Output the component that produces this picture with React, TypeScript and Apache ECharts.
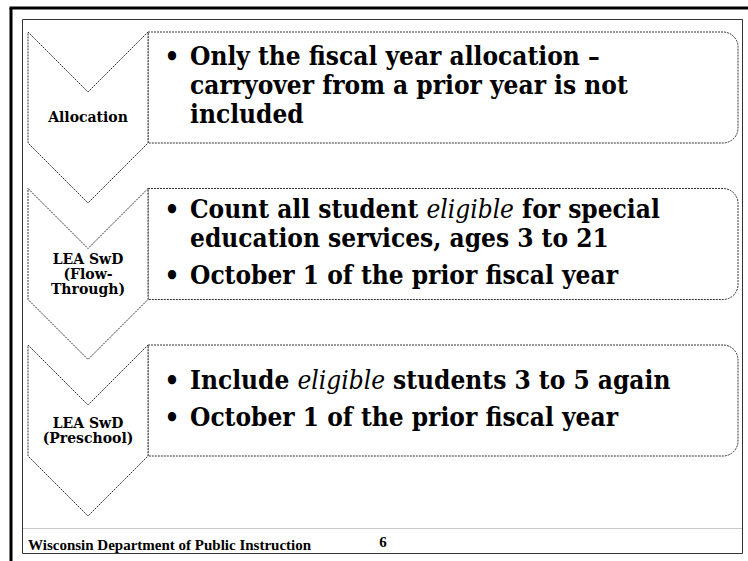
import React, { useEffect, useRef } from "react";
import * as echarts from "echarts";

const stageLabels: string[] = ["Allocation", "LEA SwD\n(Flow-\nThrough)", "LEA SwD\n(Preschool)"];

const stageBullets: string[][][] = [
  [["Only the fiscal year allocation –", "carryover from a prior year is not", "included"]],
  [
    ["Count all student {i|eligible} for special", "education services, ages 3 to 21"],
    ["October 1 of the prior fiscal year"],
  ],
  [["Include {i|eligible} students 3 to 5 again"], ["October 1 of the prior fiscal year"]],
];

const footerText = "Wisconsin Department of Public Instruction";
const pageNumber = "6";

const BODY_FONT = "'DejaVu Serif Condensed', 'DejaVu Serif'";
const BODY_SIZE = 26;
const LABEL_FONT = "DejaVu Serif";

export default function App() {
  const ref = useRef<HTMLDivElement>(null);
  useEffect(() => {
    if (!ref.current) return;
    const chart = echarts.init(ref.current, null, { renderer: "svg" });
    const elements: any[] = [];

    // outer frame
    elements.push({ type: "line", shape: { x1: 11, y1: 8, x2: 11, y2: 561 }, style: { stroke: "#000", lineWidth: 3 } });
    elements.push({ type: "line", shape: { x1: 9.5, y1: 8, x2: 748, y2: 8 }, style: { stroke: "#000", lineWidth: 3 } });
    elements.push({ type: "rect", shape: { x: 22.5, y: 19.5, width: 720, height: 534 }, style: { fill: "none", stroke: "#333", lineWidth: 1 } });
    elements.push({ type: "line", shape: { x1: 23, y1: 528.5, x2: 742, y2: 528.5 }, style: { stroke: "#c8c8c8", lineWidth: 1 } });

    const dash = { stroke: "#333", lineWidth: 1, lineDash: [2, 1], fill: "#fff" };
    const step = 156.5;
    const bodyH = 111;
    const notch = 60;

    stageLabels.forEach((label, i) => {
      const top = 32 + i * step;
      // content box
      elements.push({
        type: "rect",
        shape: { x: 148, y: top, width: 590, height: bodyH, r: [0, 15, 15, 0] },
        style: { ...dash },
      });
      // chevron
      elements.push({
        type: "polygon",
        shape: {
          points: [
            [28, top],
            [88, top + notch],
            [148, top],
            [148, top + bodyH],
            [88, top + bodyH + notch],
            [28, top + bodyH],
          ],
        },
        style: { ...dash },
      });
      elements.push({
        type: "text",
        x: 88,
        y: top + 85,
        style: {
          text: label,
          fontFamily: LABEL_FONT,
          fontWeight: "bold",
          fontSize: 14,
          lineHeight: 15,
          fill: "#000",
          align: "center",
          verticalAlign: "middle",
        },
      });

      // bullet lines
      const bullets = stageBullets[i];
      const lines: { text: string; first: boolean; off: number }[] = [];
      let off = 0;
      bullets.forEach((b, bi) => {
        b.forEach((t, li) => {
          if (bi > 0 && li === 0) off += 37;
          else if (li > 0) off += 29;
          lines.push({ text: t, first: li === 0, off });
        });
      });
      const span = off;
      const center = top + bodyH / 2;
      const startBaseline = center + 7 - span / 2;
      lines.forEach((ln) => {
        const baseline = startBaseline + ln.off;
        const midY = baseline - 0.35 * BODY_SIZE;
        if (ln.first) {
          elements.push({
            type: "text",
            x: 172,
            y: midY,
            style: {
              text: "•",
              fontFamily: BODY_FONT,
              fontWeight: "bold",
              fontSize: BODY_SIZE,
              fill: "#000",
              align: "center",
              verticalAlign: "middle",
            },
          });
        }
        elements.push({
          type: "text",
          x: 190,
          y: midY,
          style: {
            text: ln.text,
            fontFamily: BODY_FONT,
            fontWeight: "bold",
            fontSize: BODY_SIZE,
            fill: "#000",
            align: "left",
            verticalAlign: "middle",
            rich: {
              i: {
                fontFamily: BODY_FONT,
                fontWeight: "normal",
                fontStyle: "italic",
                fontSize: BODY_SIZE,
                fill: "#000",
              },
            },
          },
        });
      });
    });

    elements.push({
      type: "text",
      x: 28,
      y: 545,
      style: {
        text: footerText,
        fontFamily: "Liberation Serif",
        fontWeight: "bold",
        fontSize: 15,
        fill: "#000",
        align: "left",
        verticalAlign: "middle",
      },
    });
    elements.push({
      type: "text",
      x: 383,
      y: 542,
      style: {
        text: pageNumber,
        fontFamily: "Liberation Serif",
        fontWeight: "bold",
        fontSize: 15,
        fill: "#000",
        align: "center",
        verticalAlign: "middle",
      },
    });

    chart.setOption({
      animation: false,
      backgroundColor: "#fff",
      graphic: { elements },
    });
    return () => chart.dispose();
  }, []);
  return <div ref={ref} style={{ position: "absolute", left: 0, top: 0, width: 748, height: 561 }} />;
}
